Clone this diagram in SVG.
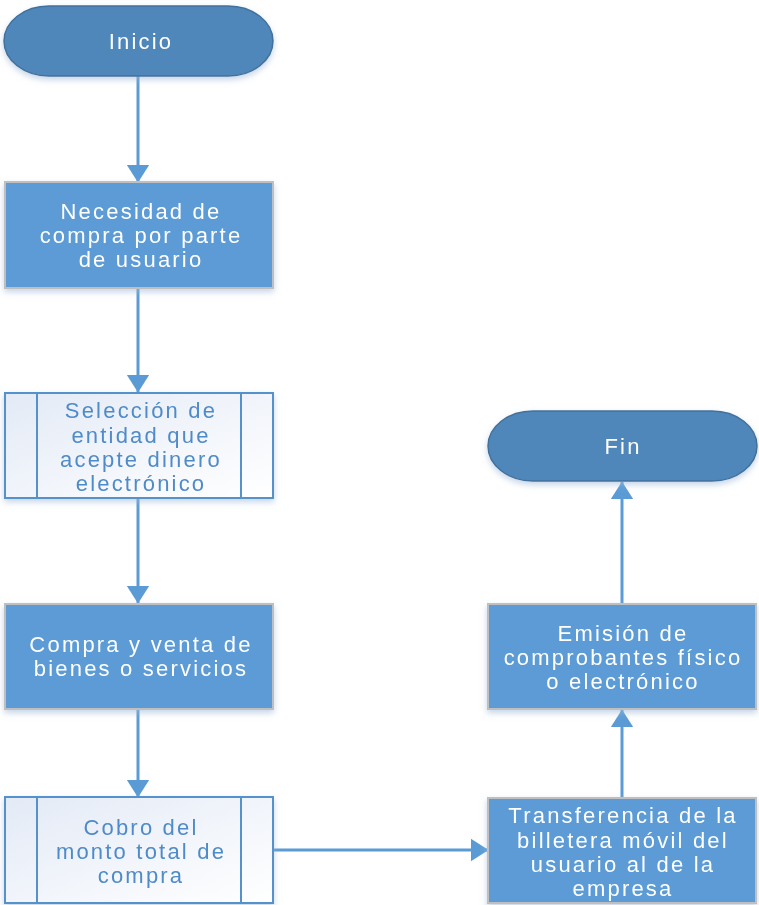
<svg xmlns="http://www.w3.org/2000/svg" width="759" height="905" viewBox="0 0 759 905">
<style>
.term{fill:#4F87BA;stroke:#41719C;stroke-width:1.5}
.proc{fill:#5B9BD5;stroke:#BFBFBF;stroke-width:2}
.pre{fill:url(#g);stroke:#5591CA;stroke-width:2}
.conn{stroke:#5B9BD5;stroke-width:3;fill:none}
text{font-family:"Liberation Sans","DejaVu Sans",sans-serif;font-size:22px;letter-spacing:2.2px;text-anchor:middle}
.w{fill:#FFFFFF}
.b{fill:#4F8BC9}
</style>
<defs>
<linearGradient id="g" x1="0" y1="0" x2="1" y2="1">
<stop offset="0" stop-color="#E3EAF6"/>
<stop offset="1" stop-color="#FFFFFF"/>
</linearGradient>
<filter id="sh" x="-10%" y="-10%" width="120%" height="130%">
<feDropShadow dx="0" dy="3" stdDeviation="3" flood-color="#9DB8D8" flood-opacity="0.6"/>
</filter>
<marker id="ah" markerWidth="6" markerHeight="8" refX="5.8" refY="4" orient="auto" markerUnits="strokeWidth">
<path d="M0,0.2 L6,4 L0,7.8 Z" fill="#5B9BD5"/>
</marker>
</defs>
<g id="connectors">
<line class="conn" x1="138" y1="76" x2="138" y2="182" marker-end="url(#ah)"/>
<line class="conn" x1="138" y1="288" x2="138" y2="392" marker-end="url(#ah)"/>
<line class="conn" x1="138" y1="498" x2="138" y2="603" marker-end="url(#ah)"/>
<line class="conn" x1="138" y1="709" x2="138" y2="797" marker-end="url(#ah)"/>
<line class="conn" x1="273" y1="850" x2="488" y2="850" marker-end="url(#ah)"/>
<line class="conn" x1="622" y1="798" x2="622" y2="710" marker-end="url(#ah)"/>
<line class="conn" x1="622" y1="604" x2="622" y2="482" marker-end="url(#ah)"/>
</g>
<g id="inicio" filter="url(#sh)">
<rect class="term" x="4" y="6" width="269" height="70" rx="45" ry="35"/>
<text class="w" x="141" y="49">Inicio</text>
</g>
<g id="necesidad" filter="url(#sh)">
<rect class="proc" x="5" y="182" width="268" height="106"/>
<text class="w" x="141" y="219">Necesidad de</text>
<text class="w" x="141" y="243">compra por parte</text>
<text class="w" x="141" y="267">de usuario</text>
</g>
<g id="seleccion" filter="url(#sh)">
<rect class="pre" x="5" y="393" width="268" height="105"/>
<line class="pre" x1="37" y1="393" x2="37" y2="498"/>
<line class="pre" x1="241" y1="393" x2="241" y2="498"/>
<text class="b" x="141" y="418">Selección de</text>
<text class="b" x="141" y="443">entidad que</text>
<text class="b" x="141" y="467">acepte dinero</text>
<text class="b" x="141" y="491">electrónico</text>
</g>
<g id="compra" filter="url(#sh)">
<rect class="proc" x="5" y="604" width="268" height="105"/>
<text class="w" x="141" y="652">Compra y venta de</text>
<text class="w" x="141" y="676">bienes o servicios</text>
</g>
<g id="cobro" filter="url(#sh)">
<rect class="pre" x="5" y="797" width="268" height="106"/>
<line class="pre" x1="37" y1="797" x2="37" y2="903"/>
<line class="pre" x1="241" y1="797" x2="241" y2="903"/>
<text class="b" x="141" y="835">Cobro del</text>
<text class="b" x="141" y="859">monto total de</text>
<text class="b" x="141" y="883">compra</text>
</g>
<g id="transferencia" filter="url(#sh)">
<rect class="proc" x="488" y="798" width="268" height="105"/>
<text class="w" x="623" y="823">Transferencia de la</text>
<text class="w" x="623" y="848">billetera móvil del</text>
<text class="w" x="623" y="872">usuario al de la</text>
<text class="w" x="623" y="896">empresa</text>
</g>
<g id="emision" filter="url(#sh)">
<rect class="proc" x="488" y="604" width="268" height="105"/>
<text class="w" x="623" y="641">Emisión de</text>
<text class="w" x="623" y="665">comprobantes físico</text>
<text class="w" x="623" y="689">o electrónico</text>
</g>
<g id="fin" filter="url(#sh)">
<rect class="term" x="488" y="411" width="269" height="70" rx="45" ry="35"/>
<text class="w" x="623" y="454">Fin</text>
</g>
</svg>
